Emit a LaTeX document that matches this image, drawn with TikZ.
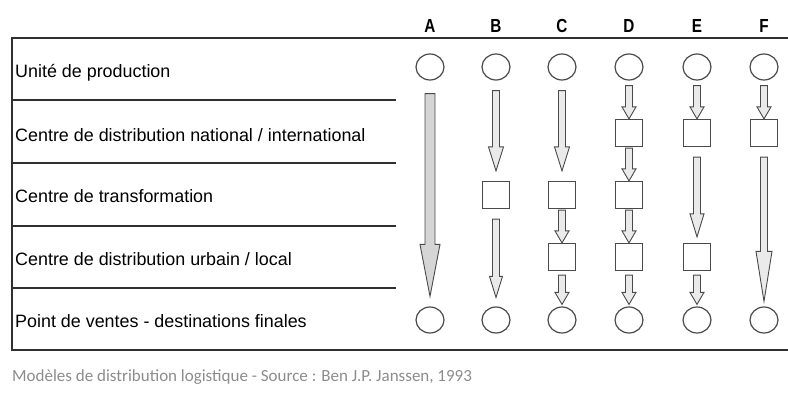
\documentclass[tikz,border=0pt]{standalone}
\usepackage{fontspec}
\setmainfont{Liberation Sans}
\newfontfamily\capfont{Carlito}
\usetikzlibrary{shapes.geometric}
\definecolor{ink}{HTML}{4A4A4A}
\definecolor{rule}{HTML}{303030}
\definecolor{flowfill}{HTML}{EAEAEA}
\definecolor{capgray}{HTML}{8C8C8C}
\tikzset{
  fshaft/.store in=\fshaft, fhead/.store in=\fhead, fheadlen/.store in=\fheadlen,
  fgapa/.store in=\fgapa, fgapb/.store in=\fgapb,
  fshaft=3.5pt, fhead=7pt, fheadlen=12pt, fgapa=1pt, fgapb=0pt}
\newcommand{\flow}[3][]{%
  \begin{scope}[#1]
  \draw[flowline] ([xshift=-\fshaft,yshift=-\fgapa]#2.south)
    -- ([xshift=-\fshaft,yshift=\fgapb+\fheadlen]#3.north)
    -- ([xshift=-\fhead,yshift=\fgapb+\fheadlen]#3.north)
    -- ([yshift=\fgapb]#3.north)
    -- ([xshift=\fhead,yshift=\fgapb+\fheadlen]#3.north)
    -- ([xshift=\fshaft,yshift=\fgapb+\fheadlen]#3.north)
    -- ([xshift=\fshaft,yshift=-\fgapa]#2.south) -- cycle;
  \end{scope}}

\begin{document}
\begin{tikzpicture}[x=1pt,y=-1pt,
  stop/.style={ellipse,draw=ink,line width=1.2pt,fill=white,minimum width=28pt,minimum height=26pt,inner sep=0pt},
  hub/.style={rectangle,draw=ink,line width=1.2pt,fill=white,minimum size=27pt,inner sep=0pt},
  flowline/.style={draw=ink,line width=0.9pt,fill=flowfill,line join=miter},
  rowlabel/.style={anchor=base west,inner sep=0pt,font=\fontsize{17.9}{20}\selectfont},
  colhead/.style={anchor=base,inner sep=0pt,font=\fontsize{18}{20}\selectfont\bfseries}]
\useasboundingbox (0,0) rectangle (788,394);
\draw[rule,line width=2.6pt] (788,38) -- (12,38) -- (12,350) -- (788,350);
\foreach \y in {100,163,226,288} \draw[rule,line width=1.4pt] (12,\y) -- (396,\y);
% rows
\node[rowlabel] (l1) at (15,77) {Unité de production};
\node[rowlabel] (l2) at (15,141) {Centre de distribution national / international};
\node[rowlabel] (l3) at (15,202) {Centre de transformation};
\node[rowlabel] (l4) at (15,265) {Centre de distribution urbain / local};
\node[rowlabel] (l5) at (15,327) {Point de ventes - destinations finales};
% columns
\foreach \c/\n/\x in {A/a/430,B/b/496,C/c/562,D/d/629,E/e/697,F/f/764}{
  \node[colhead] (h\c) at (\x,32.5) {\scalebox{0.85}[1.05]{\c}};
  \node[stop] (\n1) at (\x,67) {};
  \node[stop] (\n5) at (\x,320) {};
}
\node[hub] (d2) at (629,133) {};
\node[hub] (e2) at (697,133) {};
\node[hub] (f2) at (764,133) {};
\node[hub] (b3) at (496,195) {};
\node[hub] (c3) at (562,195) {};
\node[hub] (d3) at (629,195) {};
\node[hub] (c4) at (562,257) {};
\node[hub] (d4) at (629,257) {};
\node[hub] (e4) at (697,257) {};
% flows
\flow[fshaft=5pt,fhead=10pt,fheadlen=52pt,fgapa=13pt,fgapb=10pt,flowline/.append style={fill=flowfill!80!gray}]{a1}{a5}
\flow[fhead=7.5pt,fheadlen=24pt,fgapa=10pt,fgapb=10pt]{b1}{b3}
\flow[fhead=6.5pt,fheadlen=21pt,fgapa=10pt,fgapb=9pt]{b3}{b5}
\flow[fhead=7.5pt,fheadlen=24pt,fgapa=10pt,fgapb=10pt]{c1}{c3}
\flow{c3}{c4}
\flow[fgapa=4pt,fgapb=2pt]{c4}{c5}
\flow[fgapa=5pt]{d1}{d2}
\flow{d2}{d3}
\flow{d3}{d4}
\flow[fgapa=4pt,fgapb=2pt]{d4}{d5}
\flow[fgapa=5pt]{e1}{e2}
\flow[fheadlen=23pt,fgapa=10pt,fgapb=6pt]{e2}{e4}
\flow[fgapa=4pt,fgapb=2pt]{e4}{e5}
\flow[fgapa=5pt]{f1}{f2}
\flow[fhead=8pt,fheadlen=50pt,fgapa=10pt,fgapb=5pt]{f2}{f5}
\node[anchor=base west,inner sep=0pt,text=capgray,font=\capfont\fontsize{17}{20}\selectfont] (src) at (12,381) {Modèles de distribution logistique - Source : Ben J.P. Janssen, 1993};
\end{tikzpicture}
\end{document}
